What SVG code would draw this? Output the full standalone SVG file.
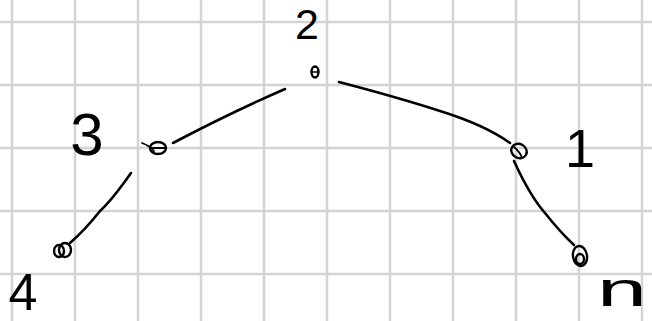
<svg xmlns="http://www.w3.org/2000/svg" width="652" height="321" viewBox="0 0 652 321">
<style>
.grid{stroke:#d3d3d3;stroke-width:2.5;fill:none}
.edge{stroke:#000;stroke-width:2.6;fill:none;stroke-linecap:round}
.node{stroke:#000;stroke-width:2.4;fill:none}
.lbl{font-family:"Liberation Sans",Arial,sans-serif;fill:#000;text-anchor:middle}
</style>
<rect width="652" height="321" fill="#fff"/>
<g id="grid" class="grid">
<path d="M12 0V321M75 0V321M138 0V321M201 0V321M264 0V321M327 0V321M390 0V321M453 0V321M516 0V321M579 0V321M642 0V321"/>
<path d="M0 22H652M0 85H652M0 148H652M0 211H652M0 274H652"/>
</g>
<g id="connectors">
<path class="edge" d="M285 89 Q230 113 173 143"/>
<path class="edge" d="M339 82 Q400 98 440 111 Q485 125 510 143"/>
<path class="edge" d="M131 173 Q112 200 100 211 Q85 230 70 243"/>
<path class="edge" d="M514 161 Q530 196 545 213 Q560 232 574 245"/>
</g>
<g id="node2"><ellipse class="node" cx="315" cy="72" rx="3.5" ry="5.5"/><path class="edge" d="M312 72H318" style="stroke-width:1.5"/></g>
<g id="node3"><ellipse class="node" cx="158" cy="148" rx="8" ry="6"/><path class="edge" d="M142 143 Q150 146 154 151 M151 148H166" style="stroke-width:1.8"/></g>
<g id="node1"><ellipse class="node" cx="519" cy="151" rx="8" ry="7" transform="rotate(30 519 151)"/><path class="edge" d="M514 147 Q520 152 522 158" style="stroke-width:1.8"/></g>
<g id="node4"><ellipse class="node" cx="59" cy="251" rx="5" ry="6"/><ellipse class="node" cx="65" cy="250" rx="6" ry="7"/></g>
<g id="noden"><ellipse class="node" cx="580" cy="256" rx="7" ry="10" transform="rotate(-10 580 256)"/><ellipse class="node" cx="580" cy="259" rx="4" ry="5"/></g>
<g id="labels">
<text class="lbl" x="307" y="39" font-size="43">2</text>
<text class="lbl" x="87" y="155" font-size="60">3</text>
<text class="lbl" x="580" y="167" font-size="54">1</text>
<text class="lbl" x="23" y="310" font-size="52">4</text>
<text class="lbl" x="622" y="306" font-size="48" textLength="50" lengthAdjust="spacingAndGlyphs">n</text>
</g>
</svg>
